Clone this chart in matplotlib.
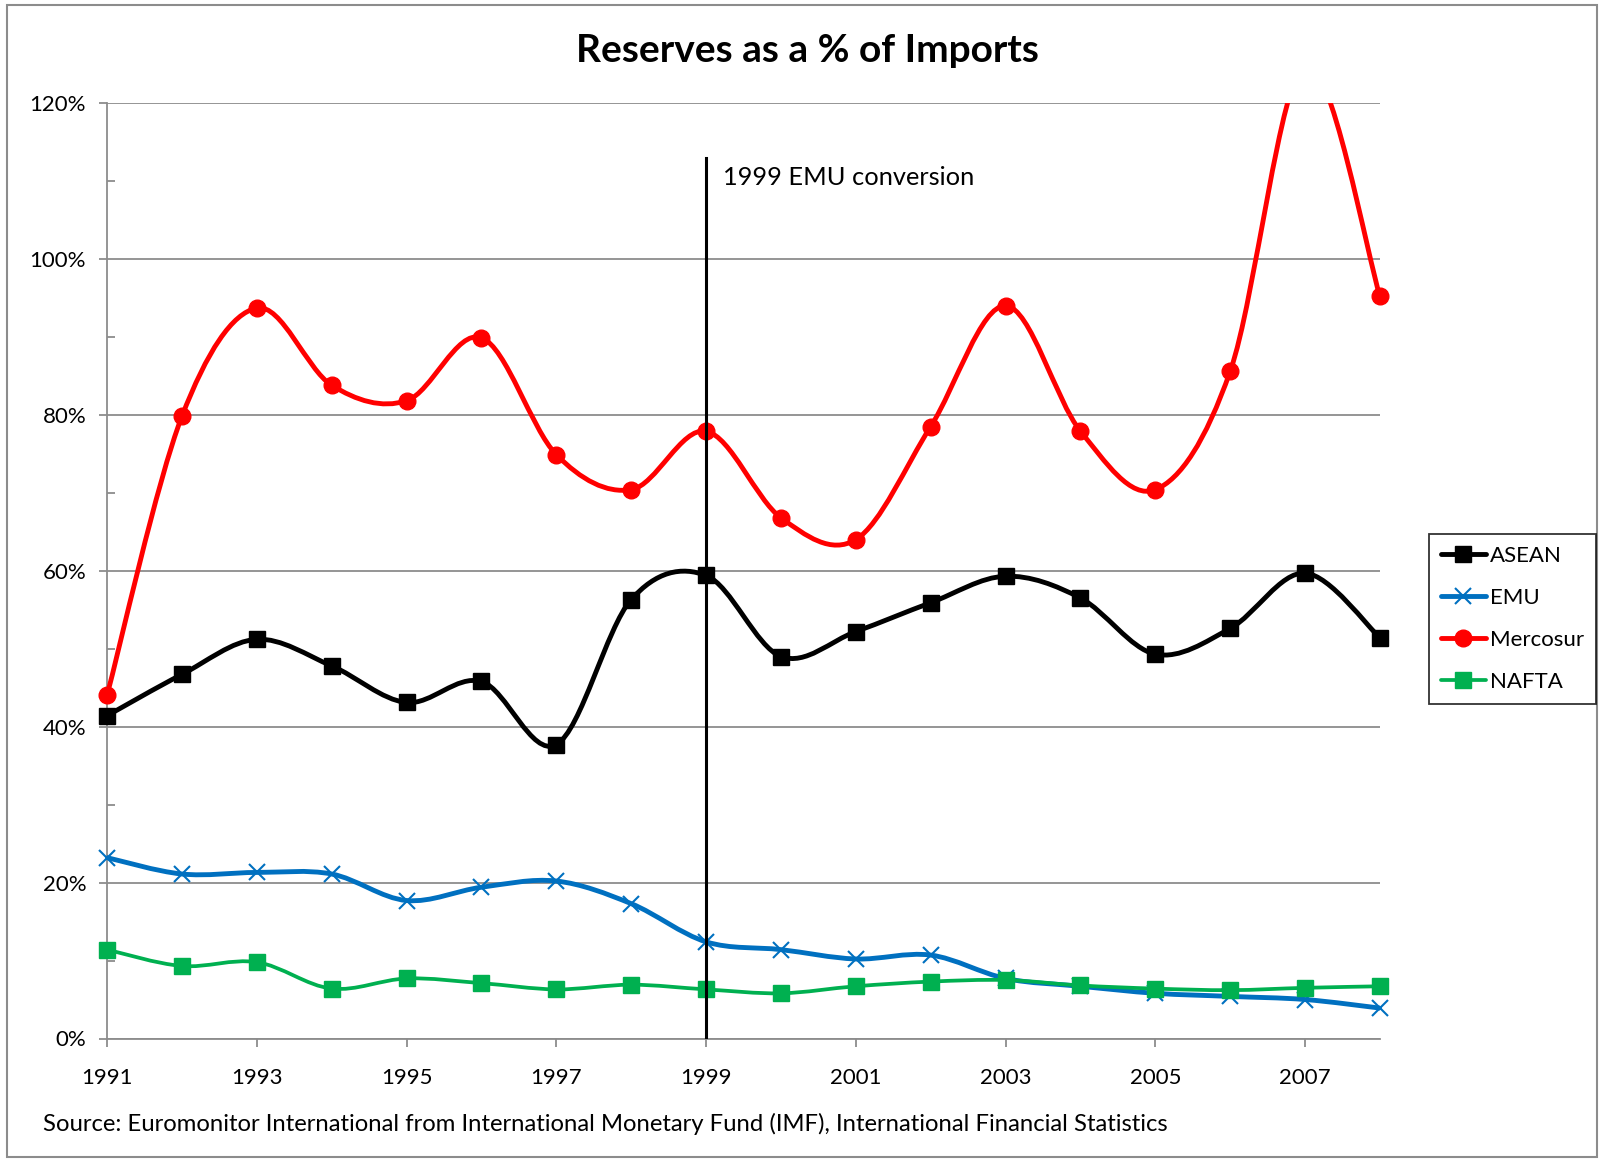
import numpy as np
import matplotlib.pyplot as plt
from matplotlib.path import Path
from matplotlib.patches import PathPatch, Rectangle
from matplotlib.lines import Line2D
from matplotlib.ticker import FixedLocator, MultipleLocator, PercentFormatter

plt.rcParams['font.family'] = ['Lato', 'DejaVu Sans']

years = list(range(1991, 2009))
year_ticks = list(range(1991, 2009, 2))
asean = [41.4, 46.7, 51.2, 47.8, 43.1, 45.8, 37.7, 56.3, 59.4,
         49.0, 52.2, 55.9, 59.3, 56.5, 49.3, 52.6, 59.7, 51.4]
emu = [23.2, 21.1, 21.3, 21.1, 17.7, 19.4, 20.2, 17.3, 12.4,
       11.4, 10.2, 10.7, 7.7, 6.7, 5.8, 5.4, 5.0, 3.9]
mercosur = [44.0, 79.8, 93.7, 83.8, 81.8, 89.9, 74.9, 70.4, 77.9,
            66.8, 64.0, 78.5, 94.0, 77.9, 70.4, 85.6, 125.0, 95.2]
nafta = [11.4, 9.3, 9.8, 6.4, 7.7, 7.1, 6.3, 6.9, 6.3,
         5.8, 6.7, 7.3, 7.5, 6.8, 6.4, 6.2, 6.5, 6.7]

event_year = 1999
event_top = 113
event_label = '1999 EMU conversion'


def smooth_path(x, y):
    # excel style smoothed line: catmull-rom segments as cubic beziers
    pts = np.column_stack([np.asarray(x, float), np.asarray(y, float)])
    p = np.vstack([pts[0], pts, pts[-1]])
    verts = [pts[0]]
    codes = [Path.MOVETO]
    for i in range(1, len(p) - 2):
        p0, p1, p2, p3 = p[i - 1], p[i], p[i + 1], p[i + 2]
        verts += [p1 + (p2 - p0) / 6, p2 - (p3 - p1) / 6, p2]
        codes += [Path.CURVE4] * 3
    return Path(verts, codes)


series = [
    ('ASEAN', asean, 'black', 's', 11, 3.5, 1),
    ('EMU', emu, '#0070C0', 'x', 12, 3.5, 1.5),
    ('Mercosur', mercosur, '#FF0000', 'o', 12, 3.5, 1),
    ('NAFTA', nafta, '#00B050', 's', 12, 2.7, 1),
]

fig = plt.figure(figsize=(16, 11.6), dpi=100)
ax = fig.add_axes([107 / 1600, 1 - 1038.5 / 1160, (1380 - 107) / 1600, (1038.5 - 103) / 1160])

# markers may spill past the sides but not above the top
mark_clip = Rectangle((-0.05, -0.05), 1.1, 1.05, transform=ax.transAxes,
                      fill=False, visible=False)
ax.add_patch(mark_clip)

handles = []
for name, vals, color, mk, ms, lw, mew in series:
    patch = PathPatch(smooth_path(years, vals), fill=False, edgecolor=color,
                      lw=lw, capstyle='round', joinstyle='round', zorder=3)
    ax.add_patch(patch)
    ln, = ax.plot(years, vals, linestyle='none', marker=mk, ms=ms, color=color,
                  mew=mew, zorder=4)
    ln.set_clip_path(mark_clip)
    handles.append(Line2D([], [], color=color, lw=lw, marker=mk, ms=ms, mew=mew,
                          solid_capstyle='round'))

ax.plot([event_year, event_year], [0, event_top], color='black', lw=2.2, zorder=5)
ax.text(event_year + 0.22, 110.5, event_label, fontsize=18.3, va='center', ha='left')

ax.set_xlim(years[0], years[-1])
ax.set_ylim(0, 120)
ax.xaxis.set_major_locator(FixedLocator(year_ticks))
ax.yaxis.set_major_locator(MultipleLocator(20))
ax.yaxis.set_minor_locator(MultipleLocator(10))
ax.yaxis.set_major_formatter(PercentFormatter(decimals=0))
ax.grid(axis='y', which='major', color='#8c8c8c', lw=1.3)
ax.set_axisbelow(True)
for s in ['top', 'right']:
    ax.spines[s].set_visible(False)
for s in ['left', 'bottom']:
    ax.spines[s].set_color('#8c8c8c')
    ax.spines[s].set_linewidth(1.3)
ax.tick_params(axis='x', direction='out', length=6, width=1.3, color='#8c8c8c',
               labelsize=16, pad=15)
ax.tick_params(axis='y', which='major', direction='out', length=6, width=1.3,
               color='#8c8c8c', labelsize=16, pad=9)
ax.tick_params(axis='y', which='minor', direction='in', length=6, width=1.3,
               color='#8c8c8c')

fig.text(807 / 1600, 1 - 51 / 1160, 'Reserves as a % of Imports', fontsize=28,
         fontweight='bold', ha='center', va='center')
fig.text(43 / 1600, 1 - 1124 / 1160,
         'Source: Euromonitor International from International Monetary Fund (IMF), '
         'International Financial Statistics', fontsize=17.2, ha='left', va='center')

leg = fig.legend(handles, [s[0] for s in series], loc='upper left',
                 bbox_to_anchor=(1429 / 1600, 1 - 534 / 1160), fontsize=16,
                 frameon=True, fancybox=False, edgecolor='black', handlelength=2.0,
                 labelspacing=0.98, borderpad=0.55, handletextpad=0.2,
                 borderaxespad=0)
leg.get_frame().set_linewidth(1.3)

fig.patches.append(Rectangle((7 / 1600, 3 / 1160), 1590 / 1600, 1152 / 1160,
                             transform=fig.transFigure, fill=False,
                             edgecolor='#8c8c8c', lw=1.5))

fig.savefig('out.png', dpi=100)
